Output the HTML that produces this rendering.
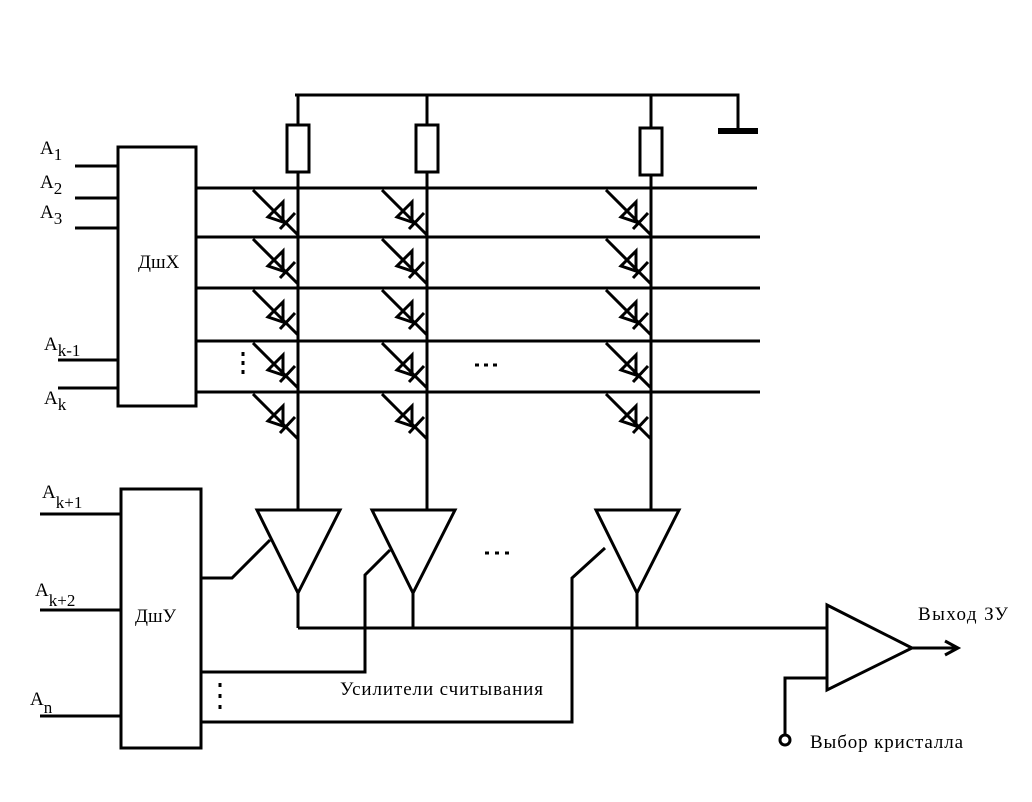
<!DOCTYPE html><html><head><meta charset="utf-8"><style>body{margin:0;background:#fff}svg{display:block}text{font-family:"Liberation Serif",serif;fill:#000}</style></head><body>
<svg width="1032" height="802" viewBox="0 0 1032 802" stroke="#000" stroke-width="3" fill="none">
<path d="M295 95H738V131M718 131H758" />
<path d="M718 131H758" stroke-width="6"/>
<rect x="287" y="125" width="22" height="47" fill="#fff"/>
<rect x="416" y="125" width="22" height="47" fill="#fff"/>
<rect x="640" y="128" width="22" height="47" fill="#fff"/>
<path d="M298 95V125M298 172V510M427 95V125M427 172V510M651 95V128M651 175V510"/>
<path d="M196 188H757M196 237H760M196 288H760M196 341H760M196 392H760"/>
<rect x="118" y="147" width="78" height="259"/>
<rect x="121" y="489" width="80" height="259"/>
<path d="M75 166H118M75 198H118M75 228H118M58 360H118M58 388H118M40 514H121M40 610H121M40 716H121"/>
<g id="d"><path d="M253 190L298 235M283 202L268 217L283 222ZM280 229L295 213"/></g>
<use href="#d" x="129"/><use href="#d" x="353"/>
<use href="#d" y="49"/><use href="#d" x="129" y="49"/><use href="#d" x="353" y="49"/>
<use href="#d" y="100"/><use href="#d" x="129" y="100"/><use href="#d" x="353" y="100"/>
<use href="#d" y="153"/><use href="#d" x="129" y="153"/><use href="#d" x="353" y="153"/>
<use href="#d" y="204"/><use href="#d" x="129" y="204"/><use href="#d" x="353" y="204"/>
<path d="M257 510H340L298 593ZM372 510H455L413 593ZM596 510H679L637 593Z"/>
<path d="M298 593V628M413 593V628M637 593V628M298 628H827"/>
<path d="M201 578H232L270 540M201 672H365V575L390 550M201 722H572V578L605 548"/>
<path d="M827 605V690L912 648ZM912 648H958M945 641L958 648L945 655M785 734V678H827"/>
<circle cx="785" cy="740" r="5"/>
<path d="M243 352V356M243 361V365M243 370V374M220 683V687M220 694V698M220 705V709M475 365H479M484 365H488M493 365H497M485 553H489M495 553H499M505 553H509" stroke-width="3"/>
<g stroke="none" font-size="19">
<text x="40" y="154">A<tspan font-size="17" dy="6">1</tspan></text>
<text x="40" y="188">A<tspan font-size="17" dy="6">2</tspan></text>
<text x="40" y="218">A<tspan font-size="17" dy="6">3</tspan></text>
<text x="44" y="350">A<tspan font-size="17" dy="6">k-1</tspan></text>
<text x="44" y="404">A<tspan font-size="17" dy="6">k</tspan></text>
<text x="42" y="498">A<tspan font-size="17" dy="10">k+1</tspan></text>
<text x="35" y="596">A<tspan font-size="17" dy="10">k+2</tspan></text>
<text x="30" y="705">A<tspan font-size="17" dy="8">n</tspan></text>
<text x="138" y="268">ДшХ</text>
<text x="135" y="622">ДшУ</text>
<text x="340" y="695" textLength="203">Усилители считывания</text>
<text x="918" y="620" textLength="90">Выход ЗУ</text>
<text x="810" y="748" textLength="153">Выбор кристалла</text>
</g>
</svg></body></html>
